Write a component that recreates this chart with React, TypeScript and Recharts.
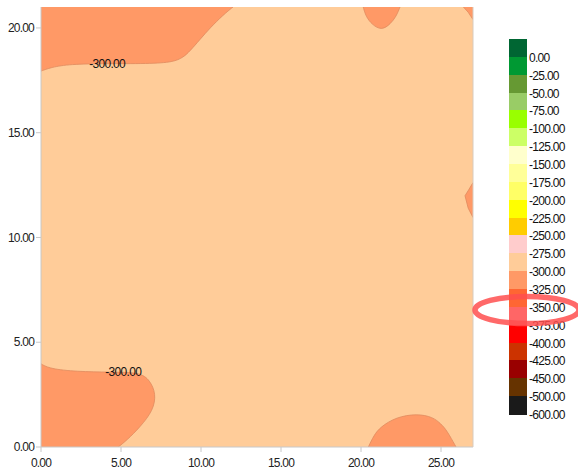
import React from 'react'
import { ComposedChart, Area, Scatter, XAxis, YAxis } from 'recharts'

const xTicks = [0, 5, 10, 15, 20, 25]
const yTicks = [0, 5, 10, 15, 20]

// -275 .. -300 level, covers the whole grid
const baseLevel = [
  { x: 0, y: 21 },
  { x: 27, y: 21 },
]

// below -300 regions, boundary points (x, y)
const topLeftZone = [
  { x: 0, y: 17.94 },
  { x: 0.56, y: 18.1 },
  { x: 1.6, y: 18.26 },
  { x: 3.69, y: 18.3 },
  { x: 6.81, y: 18.29 },
  { x: 8.27, y: 18.37 },
  { x: 8.9, y: 18.6 },
  { x: 9.31, y: 18.9 },
  { x: 9.94, y: 19.45 },
  { x: 10.56, y: 20.0 },
  { x: 11.4, y: 20.63 },
  { x: 12.0, y: 21 },
]

const bottomLeftZone = [
  { x: 0, y: 3.97 },
  { x: 0.56, y: 3.73 },
  { x: 2.23, y: 3.6 },
  { x: 4.31, y: 3.57 },
  { x: 6.19, y: 3.57 },
  { x: 6.81, y: 3.18 },
  { x: 7.19, y: 2.54 },
  { x: 7.02, y: 1.75 },
  { x: 6.19, y: 0.95 },
  { x: 5.36, y: 0.32 },
  { x: 4.83, y: 0 },
]

const bottomRightZone = [
  { x: 20.46, y: 0 },
  { x: 20.8, y: 0.55 },
  { x: 21.2, y: 0.95 },
  { x: 22.2, y: 1.43 },
  { x: 23.5, y: 1.59 },
  { x: 24.5, y: 1.43 },
  { x: 25.0, y: 1.1 },
  { x: 25.36, y: 0.8 },
  { x: 25.94, y: 0 },
]

const topMiddleZone = [
  { x: 20.14, y: 21 },
  { x: 20.3, y: 20.55 },
  { x: 20.7, y: 20.15 },
  { x: 21.3, y: 19.88 },
  { x: 21.85, y: 20.2 },
  { x: 22.2, y: 20.55 },
  { x: 22.44, y: 21 },
]

const topRightZone = [
  { x: 26.4, y: 21 },
  { x: 26.7, y: 20.75 },
  { x: 27, y: 20.4 },
]

const rightEdgeZone = [
  { x: 27, y: 12.62 },
  { x: 26.75, y: 12.3 },
  { x: 26.5, y: 11.99 },
  { x: 26.7, y: 11.4 },
  { x: 27, y: 10.95 },
]

const contourLabels = [
  { x: 4.13, y: 18.27, text: '-300.00' },
  { x: 5.14, y: 3.58, text: '-300.00' },
]

const legendColors = [
  '#006633', '#009933', '#669933', '#99cc66', '#99ff00', '#ccff66', '#ffffcc',
  '#ffff99', '#ffff66', '#ffff00', '#ffcc00', '#ffcccc', '#ffcc99', '#ff9966',
  '#ff6633', '#ff6666', '#ff0000', '#cc3300', '#990000', '#663300', '#1a1a1a',
]
const legendLabels = [
  '0.00', '-25.00', '-50.00', '-75.00', '-100.00', '-125.00', '-150.00',
  '-175.00', '-200.00', '-225.00', '-250.00', '-275.00', '-300.00', '-325.00',
  '-350.00', '-375.00', '-400.00', '-425.00', '-450.00', '-500.00', '-600.00',
]

const PEACH = '#ffcc99'
const ORANGE = '#ff9966'
const EDGE = '#e08a5e'
const FONT = '"Liberation Sans", Arial, sans-serif'

const zones = [
  { data: topLeftZone, base: 21, curve: 'basis' },
  { data: bottomLeftZone, base: 0, curve: 'basis' },
  { data: bottomRightZone, base: 0, curve: 'basis' },
  { data: topMiddleZone, base: 21, curve: 'basis' },
  { data: topRightZone, base: 21, curve: 'linear' },
  { data: rightEdgeZone, base: 0, curve: 'linear' },
]

const tickStyle = { fontSize: 12, fill: '#222', letterSpacing: -0.8, fontFamily: FONT }

function ContourText(props: any) {
  const { cx, cy, payload } = props
  return (
    <text
      x={cx}
      y={cy}
      textAnchor="middle"
      dominantBaseline="central"
      fontSize={12}
      fill="#111"
      style={{ letterSpacing: -0.7, fontFamily: FONT }}
    >
      {payload.text}
    </text>
  )
}

function ColorScale() {
  const boxH = 17.86
  return (
    <div style={{ position: 'absolute', left: 509, top: 39, fontFamily: FONT }}>
      {legendColors.map((c, i) => (
        <div
          key={i}
          style={{
            position: 'absolute',
            left: 0,
            top: i * boxH,
            width: 18,
            height: boxH + 0.5,
            background: c,
          }}
        />
      ))}
      {legendLabels.map((l, i) => (
        <div
          key={l}
          style={{
            position: 'absolute',
            left: 20,
            top: (i + 1) * boxH - 6,
            fontSize: 12,
            lineHeight: '14px',
            color: '#111',
            letterSpacing: -0.7,
            whiteSpace: 'nowrap',
          }}
        >
          {l}
        </div>
      ))}
    </div>
  )
}

export default function App() {
  return (
    <div style={{ position: 'absolute', left: 0, top: 0, width: 578, height: 476, background: '#fff' }}>
      <ComposedChart
        width={578}
        height={476}
        margin={{ top: 7, right: 99, left: 0, bottom: 0 }}
        style={{ fontFamily: FONT }}
      >
        <XAxis
          dataKey="x"
          type="number"
          domain={[0, 27]}
          ticks={xTicks}
          tickFormatter={(v: number) => v.toFixed(2)}
          height={29}
          tickSize={5}
          tickMargin={6}
          stroke="#c8c8c8"
          tick={tickStyle}
          allowDataOverflow
        />
        <XAxis
          xAxisId="top"
          orientation="top"
          type="number"
          domain={[0, 27]}
          ticks={xTicks}
          height={0}
          tickSize={7}
          axisLine={false}
          tick={false}
          stroke="#d0d0d0"
          allowDataOverflow
        />
        <YAxis
          type="number"
          domain={[0, 21]}
          ticks={yTicks}
          tickFormatter={(v: number) => v.toFixed(2)}
          width={41}
          tickSize={5}
          tickMargin={2}
          stroke="#c8c8c8"
          tick={tickStyle}
          allowDataOverflow
        />
        <YAxis
          yAxisId="right"
          orientation="right"
          type="number"
          domain={[0, 21]}
          ticks={yTicks}
          width={6}
          tickSize={6}
          tick={false}
          stroke="#d8cbbd"
          allowDataOverflow
        />
        <Area
          data={baseLevel}
          dataKey="y"
          type="linear"
          baseValue={0}
          fill={PEACH}
          fillOpacity={1}
          stroke="none"
          dot={false}
          activeDot={false}
          isAnimationActive={false}
        />
        {zones.map((z, i) => (
          <Area
            key={i}
            data={z.data}
            dataKey="y"
            type={z.curve as any}
            baseValue={z.base}
            fill={ORANGE}
            fillOpacity={1}
            stroke={EDGE}
            strokeWidth={0.8}
            dot={false}
            activeDot={false}
            isAnimationActive={false}
          />
        ))}
        <Scatter data={contourLabels} dataKey="y" shape={ContourText} isAnimationActive={false} />
      </ComposedChart>
      <ColorScale />
      <svg
        width={578}
        height={476}
        style={{ position: 'absolute', left: 0, top: 0, pointerEvents: 'none' }}
      >
        <ellipse cx={527} cy={310} rx={52} ry={13.5} fill="none" stroke="#ff4f4f" strokeOpacity={0.85} strokeWidth={5.5} />
      </svg>
    </div>
  )
}
